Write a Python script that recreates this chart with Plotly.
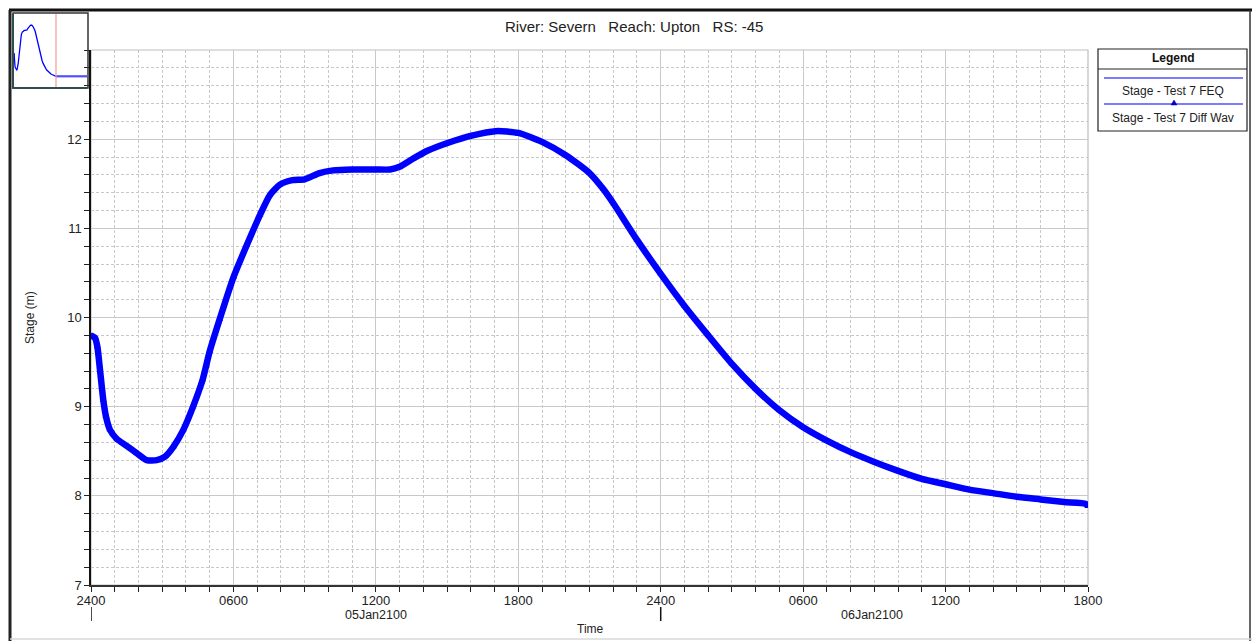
import plotly.graph_objects as go

# ---- data -------------------------------------------------------------
# Hours after 2400 on 04Jan2100 (i.e. start of 05Jan2100)
hours = [0, 0.17, 0.27, 0.38, 0.52, 0.63, 0.8, 1.08, 1.5, 1.92, 2.35, 2.77, 3.12,
         3.47, 3.89, 4.3, 4.7, 5.0, 5.42, 6.0, 6.56, 7.12, 7.53, 7.96, 8.49, 9.0,
         9.63, 10.2, 11.0, 12.0, 12.6, 13.0, 13.56, 14.17, 15.05, 16.04, 17.05,
         18.0, 19.0, 20.0, 21.0, 21.58, 22.03, 23.0, 24.0, 25.0, 26.0, 27.0, 28.0,
         29.0, 30.0, 31.0, 32.0, 33.0, 34.0, 35.0, 36.0, 37.0, 38.0, 39.0, 40.0,
         41.0, 41.9, 42.0]

# Water-surface stage (m), FEQ run
stage_feq = [9.80, 9.77, 9.67, 9.41, 9.07, 8.89, 8.74, 8.64, 8.56, 8.48, 8.40, 8.40,
             8.44, 8.55, 8.74, 9.00, 9.30, 9.62, 9.98, 10.45, 10.81, 11.15, 11.37,
             11.49, 11.54, 11.55, 11.62, 11.65, 11.66, 11.66, 11.66, 11.69, 11.78,
             11.87, 11.96, 12.04, 12.09, 12.07, 11.97, 11.82, 11.62, 11.44, 11.27,
             10.87, 10.49, 10.13, 9.80, 9.48, 9.20, 8.96, 8.77, 8.62, 8.49, 8.38,
             8.28, 8.19, 8.13, 8.07, 8.03, 7.99, 7.96, 7.93, 7.91, 7.88]

# Diffusion-wave run (plots on top of the FEQ curve)
stage_diffwav = [9.80, 9.77, 9.67, 9.41, 9.07, 8.89, 8.74, 8.64, 8.56, 8.48, 8.40, 8.40,
                 8.44, 8.55, 8.74, 9.00, 9.30, 9.62, 9.98, 10.45, 10.81, 11.15, 11.37,
                 11.49, 11.54, 11.55, 11.62, 11.65, 11.66, 11.66, 11.66, 11.69, 11.78,
                 11.87, 11.96, 12.04, 12.09, 12.07, 11.97, 11.82, 11.62, 11.44, 11.27,
                 10.87, 10.49, 10.13, 9.80, 9.48, 9.20, 8.96, 8.77, 8.62, 8.49, 8.38,
                 8.28, 8.19, 8.13, 8.07, 8.03, 7.99, 7.96, 7.93, 7.91, 7.88]

tick_hours = [0, 6, 12, 18, 24, 30, 36, 42]
tick_labels = ["2400", "0600", "1200", "1800", "2400", "0600", "1200", "1800"]
stage_ticks = [7, 8, 9, 10, 11, 12]
day_labels = ["05Jan2100", "06Jan2100"]
day_starts = [0, 24]
day_label_hours = [12, 32.9]

series_names = ["Stage - Test 7 FEQ", "Stage - Test 7 Diff Wav"]
chart_title = "River: Severn\u00a0\u00a0 Reach: Upton\u00a0\u00a0 RS: -45"

X_RANGE = [0, 42]
Y_RANGE = [7, 13]
OVERVIEW_SPAN = 73  # hours covered by the small overview panel

# ---- page geometry (pixels) ------------------------------------------
W, H = 1252, 641
FONT = "Liberation Sans, Arial, sans-serif"
BLUE = "#0000ff"
LEG_BLUE = "#5050ff"


def px(x):
    return x / W


def py(y):
    return 1 - y / H


fig = go.Figure()

# main curves
fig.add_trace(go.Scatter(
    x=hours, y=stage_diffwav, mode="lines+markers", name=series_names[1],
    line=dict(color=BLUE, width=6.5, shape="spline", smoothing=0.6),
    marker=dict(symbol="triangle-up", size=6, color=BLUE),
    showlegend=False, xaxis="x", yaxis="y"))
fig.add_trace(go.Scatter(
    x=hours, y=stage_feq, mode="lines", name=series_names[0],
    line=dict(color=BLUE, width=1.5, shape="spline", smoothing=0.6),
    showlegend=False, xaxis="x", yaxis="y"))

# overview panel
fig.add_trace(go.Scatter(
    x=hours, y=stage_feq, mode="lines", line=dict(color=BLUE, width=1.3),
    showlegend=False, hoverinfo="skip", xaxis="x2", yaxis="y2"))
fig.add_trace(go.Scatter(
    x=[hours[-1], OVERVIEW_SPAN], y=[stage_feq[-1], stage_feq[-1]], mode="lines",
    line=dict(color=LEG_BLUE, width=2.2),
    showlegend=False, hoverinfo="skip", xaxis="x2", yaxis="y2"))

grid_major = "#c9c9c9"
grid_minor = "#c8c8c8"
minor_dash = "3px,2px"
tick_font = dict(family=FONT, size=13, color="#222222")

fig.update_layout(
    width=W, height=H,
    margin=dict(l=0, r=0, t=0, b=0, pad=0, autoexpand=False),
    paper_bgcolor="white", plot_bgcolor="white",
    xaxis=dict(
        domain=[px(91), px(1088)], range=X_RANGE, anchor="y", automargin=False,
        tickmode="array", tickvals=tick_hours, ticktext=tick_labels,
        ticks="outside", ticklen=5, tickcolor="#222", tickfont=tick_font,
        ticklabelstandoff=-2,
        showline=True, linecolor="#333333", linewidth=1.5,
        showgrid=True, gridcolor=grid_major, gridwidth=1, zeroline=False,
        minor=dict(tickmode="linear", tick0=0, dtick=1, ticks="outside", ticklen=5,
                   tickcolor="#222", showgrid=True, gridcolor=grid_minor,
                   griddash=minor_dash, gridwidth=1),
    ),
    yaxis=dict(
        domain=[py(585), py(50)], range=Y_RANGE, anchor="x", automargin=False,
        tickmode="array", tickvals=stage_ticks,
        ticks="outside", ticklen=5, tickcolor="#222", tickfont=tick_font,
        showline=True, linecolor="#111111", linewidth=1.5,
        showgrid=True, gridcolor=grid_major, gridwidth=1, zeroline=False,
        minor=dict(tickmode="linear", tick0=7, dtick=0.2, ticks="outside", ticklen=5,
                   tickcolor="#222", showgrid=True, gridcolor=grid_minor,
                   griddash=minor_dash, gridwidth=1),
    ),
    xaxis2=dict(
        domain=[px(14), px(87)], range=[0, OVERVIEW_SPAN], anchor="y2", automargin=False,
        showticklabels=False, ticks="", showgrid=False, zeroline=False,
        showline=True, linecolor="#2aa0a0", linewidth=1.5,
    ),
    yaxis2=dict(
        domain=[py(87), py(14)], range=Y_RANGE, anchor="x2", automargin=False,
        showticklabels=False, ticks="", showgrid=False, zeroline=False,
        showline=True, linecolor="#2aa0a0", linewidth=1.5,
    ),
)

shapes = []
# light frame on top/right of the plotting area
shapes.append(dict(type="rect", xref="paper", yref="paper",
                   x0=px(91), x1=px(1088), y0=py(585), y1=py(50),
                   line=dict(color="#bdbdbd", width=1.2), layer="below"))
# outer chart border
shapes.append(dict(type="line", xref="paper", yref="paper",
                   x0=px(9), x1=px(1252), y0=py(10), y1=py(10),
                   line=dict(color="#111111", width=3)))
shapes.append(dict(type="line", xref="paper", yref="paper",
                   x0=px(10), x1=px(10), y0=py(10), y1=py(641),
                   line=dict(color="#222222", width=3)))
shapes.append(dict(type="line", xref="paper", yref="paper",
                   x0=px(1250), x1=px(1250), y0=py(10), y1=py(641),
                   line=dict(color="#333333", width=1.5)))
shapes.append(dict(type="line", xref="paper", yref="paper",
                   x0=px(10), x1=px(1252), y0=py(639), y1=py(639),
                   line=dict(color="#d8d8d8", width=1.5)))
# day boundary marks below the time axis
for d in day_starts:
    shapes.append(dict(type="line", xref="x", yref="paper",
                       x0=d, x1=d, y0=py(607), y1=py(621),
                       line=dict(color="#111111", width=1.5)))
# overview panel box and current-window marker
shapes.append(dict(type="rect", xref="paper", yref="paper",
                   x0=px(13), x1=px(88), y0=py(88), y1=py(13),
                   line=dict(color="#333333", width=1.5)))
shapes.append(dict(type="line", xref="x2", yref="y2",
                   x0=X_RANGE[1], x1=X_RANGE[1], y0=Y_RANGE[0], y1=Y_RANGE[1],
                   line=dict(color="#f29a9a", width=1.2)))
# legend box
LX0, LX1, LY0, LY1 = 1098, 1247, 49, 131
shapes.append(dict(type="rect", xref="paper", yref="paper",
                   x0=px(LX0), x1=px(LX1), y0=py(LY1), y1=py(LY0),
                   line=dict(color="#222222", width=1.2), fillcolor="white"))
shapes.append(dict(type="line", xref="paper", yref="paper",
                   x0=px(LX0), x1=px(LX1), y0=py(69), y1=py(69),
                   line=dict(color="#222222", width=1)))
for ly in (78, 104):
    shapes.append(dict(type="line", xref="paper", yref="paper",
                       x0=px(1104), x1=px(1243), y0=py(ly), y1=py(ly),
                       line=dict(color=LEG_BLUE, width=1.5)))
tri_x, tri_y = 1174, 104
shapes.append(dict(type="path", xref="paper", yref="paper",
                   path=(f"M {px(tri_x - 3)} {py(tri_y + 1)} L {px(tri_x + 3)} {py(tri_y + 1)} "
                         f"L {px(tri_x)} {py(tri_y - 4)} Z"),
                   fillcolor="#0000cc", line=dict(color="#0000cc", width=0.5)))

annotations = []


def label(text, x, y, size=12, bold=False, angle=0, color="#222222", xanchor="center"):
    annotations.append(dict(
        text=f"<b>{text}</b>" if bold else text,
        x=px(x), y=py(y), xref="paper", yref="paper", showarrow=False,
        xanchor=xanchor, yanchor="middle", textangle=angle,
        font=dict(family=FONT, size=size, color=color)))


label(chart_title, 634, 27, size=15)
label("Stage (m)", 30, 318, size=12, angle=-90)
label("Time", 590, 629, size=12)
for name, h in zip(day_labels, day_label_hours):
    annotations.append(dict(text=name, x=h, y=py(615), xref="x", yref="paper",
                            showarrow=False, xanchor="center", yanchor="middle",
                            font=dict(family=FONT, size=12.5, color="#222222")))
label("Legend", 1173, 58, size=12, bold=True, color="#111111")
label(series_names[0], 1173, 91, size=12)
label(series_names[1], 1173, 118, size=12)

fig.update_layout(shapes=shapes, annotations=annotations)

fig.write_html("out.html")
